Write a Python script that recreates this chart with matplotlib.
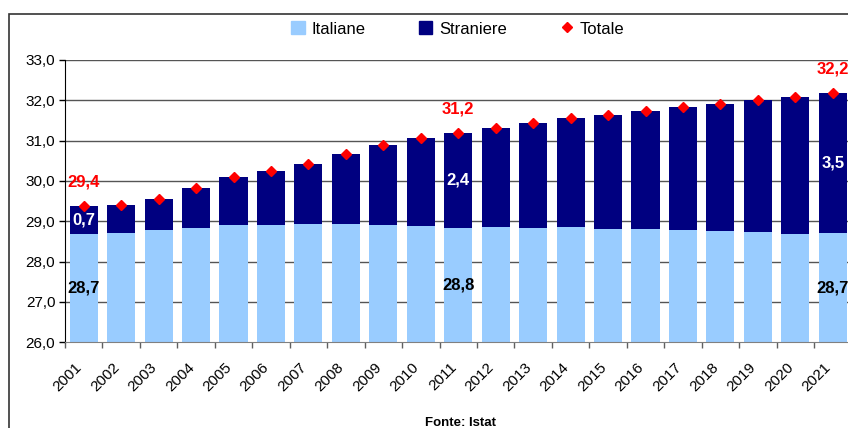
import numpy as np
import matplotlib
matplotlib.use("Agg")
import matplotlib.pyplot as plt
import matplotlib.transforms as mtransforms
from matplotlib.patches import Rectangle
from matplotlib.lines import Line2D
from matplotlib.ticker import FuncFormatter, FixedLocator

plt.rcParams['font.family'] = ['Liberation Sans', 'DejaVu Sans']

anni = [str(a) for a in range(2001, 2022)]
italiane = [28.69, 28.71, 28.78, 28.83, 28.91, 28.91, 28.94, 28.94, 28.91, 28.89, 28.84,
            28.86, 28.84, 28.86, 28.82, 28.82, 28.79, 28.77, 28.74, 28.69, 28.71]
straniere = [0.69, 0.69, 0.77, 1.00, 1.20, 1.34, 1.49, 1.73, 1.98, 2.18, 2.35,
             2.45, 2.60, 2.70, 2.82, 2.92, 3.05, 3.14, 3.27, 3.39, 3.47]
totale = [29.38, 29.40, 29.55, 29.83, 30.11, 30.25, 30.43, 30.67, 30.89, 31.07, 31.19,
          31.31, 31.44, 31.56, 31.64, 31.74, 31.84, 31.91, 32.01, 32.08, 32.18]
anni_etichetta = [0, 10, 20]  # indici con etichette dei valori

C_ITA = '#99CCFF'
C_STR = '#000080'
C_TOT = '#FF0000'

def virgola(v, pos=None):
    return f"{v:.1f}".replace('.', ',')

W, H = 848, 428
fig = plt.figure(figsize=(W / 100, H / 100), dpi=100)
ax = fig.add_axes([65 / W, 1 - 342.3 / H, 786.5 / W, 282.3 / H])

x = np.arange(len(anni))
base = 26.0
ita_h = np.array(italiane) - base
ax.bar(x, ita_h, 0.75, bottom=base, color=C_ITA, zorder=2)
ax.bar(x, straniere, 0.75, bottom=italiane, color=C_STR, zorder=2)
ax.plot(x, totale, linestyle='none', marker='D', markersize=5, color=C_TOT, zorder=3)

# etichette dei valori
for i in anni_etichetta:
    ax.text(x[i], (base + italiane[i]) / 2, virgola(round(italiane[i], 1)),
            ha='center', va='center', fontsize=12, fontweight='bold', color='black', zorder=4)
    ax.text(x[i], italiane[i] + straniere[i] / 2, virgola(round(straniere[i], 1)),
            ha='center', va='center', fontsize=12, fontweight='bold', color='white', zorder=4)
    ax.annotate(virgola(round(totale[i], 1)), (x[i], totale[i]), xytext=(0, 17),
                textcoords='offset points', ha='center', va='center',
                fontsize=12, fontweight='bold', color=C_TOT, zorder=4)

ax.set_ylim(26, 33)
ax.set_xlim(-0.5, len(anni) - 0.5)
ax.set_yticks(np.arange(26, 33.5, 1))
ax.yaxis.set_major_formatter(FuncFormatter(virgola))
ax.tick_params(axis='y', direction='out', length=4, width=1, labelsize=11, pad=3)

ax.set_xticks(x)
ax.set_xticklabels(anni, rotation=45, ha='right', va='top', rotation_mode='anchor', fontsize=11)
ax.tick_params(axis='x', which='major', length=0, pad=13)
shift = mtransforms.ScaledTranslation(-9 / 100, 0, fig.dpi_scale_trans)
for lab in ax.get_xticklabels():
    lab.set_transform(lab.get_transform() + shift)
ax.xaxis.set_minor_locator(FixedLocator(np.arange(-0.5, len(anni), 1)))
ax.tick_params(axis='x', which='minor', length=4, width=1, color='#606060', direction='out')

for y in range(27, 34):
    ax.axhline(y, color='#555555', linewidth=1, zorder=1)

for s in ['top', 'right']:
    ax.spines[s].set_visible(False)
ax.spines['left'].set_color('black')
ax.spines['bottom'].set_color('#808080')

handles = [
    Rectangle((0, 0), 1, 1, color=C_ITA),
    Rectangle((0, 0), 1, 1, color=C_STR),
    Line2D([], [], linestyle='none', marker='D', markersize=5, color=C_TOT),
]
fig.legend(handles, ['Italiane', 'Straniere', 'Totale'], loc='center', ncol=3,
           bbox_to_anchor=(458 / W, 1 - 29 / H), frameon=False, fontsize=12,
           handlelength=0.8, handleheight=0.8, handletextpad=0.4, columnspacing=3.2)

fig.text(460 / W, 1 - 423 / H, 'Fonte: Istat', ha='center', va='center',
         fontsize=9.5, fontweight='bold')

fig.patches.append(Rectangle((9 / W, -0.1), 1.2, 1.1 - 14 / H, transform=fig.transFigure,
                             fill=False, edgecolor='#333333', linewidth=1.2, zorder=0))

fig.savefig('out.png', dpi=100)
